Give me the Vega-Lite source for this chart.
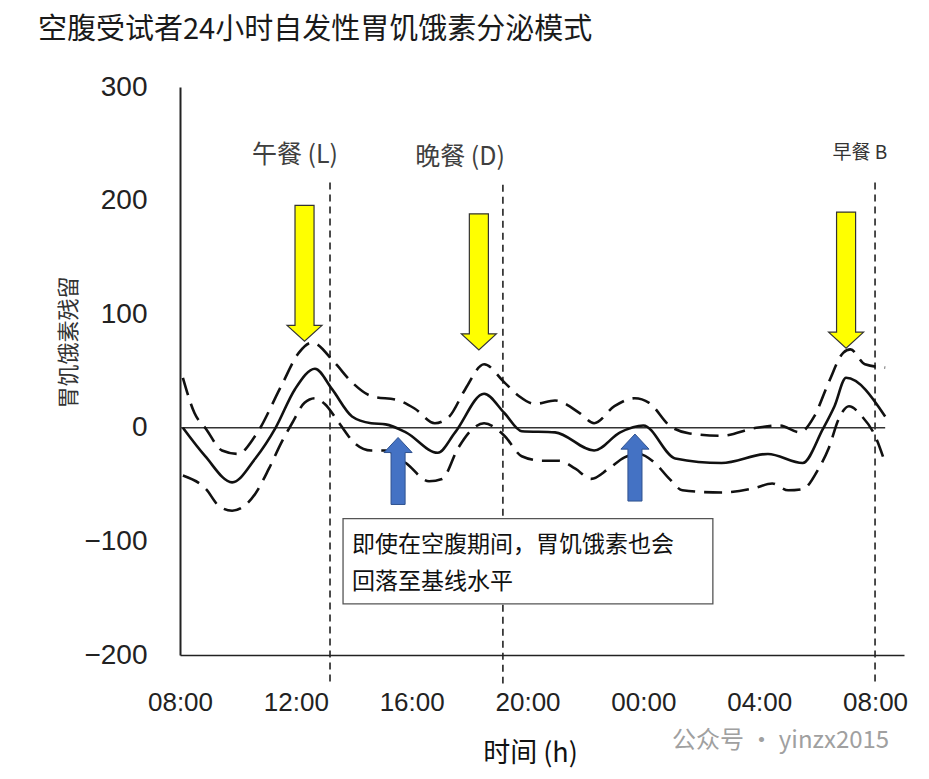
{
  "$schema": "https://vega.github.io/schema/vega-lite/v6.json",
  "width": 724,
  "height": 568,
  "autosize": {"type": "none"},
  "padding": {"left": 180, "top": 87, "right": 25, "bottom": 124},
  "background": "white",
  "config": {"view": {"stroke": null}, "font": "Noto Sans CJK SC"},
  "title": {
    "text": "空腹受试者24小时自发性胃饥饿素分泌模式",
    "anchor": "start",
    "frame": "group",
    "dx": -142,
    "offset": -1,
    "baseline": "bottom",
    "font": "Noto Sans CJK SC",
    "fontSize": 29,
    "fontWeight": "normal",
    "color": "#1a1a1a"
  },
  "datasets": {
    "curves": [
      {"series": "均值", "h": 0.1, "v": 0},
      {"series": "均值", "h": 0.87, "v": -25},
      {"series": "均值", "h": 1.8, "v": -48},
      {"series": "均值", "h": 2.6, "v": -27},
      {"series": "均值", "h": 3.3, "v": 0},
      {"series": "均值", "h": 3.97, "v": 34},
      {"series": "均值", "h": 4.66, "v": 52},
      {"series": "均值", "h": 5.25, "v": 34},
      {"series": "均值", "h": 5.94, "v": 10},
      {"series": "均值", "h": 6.6, "v": 4},
      {"series": "均值", "h": 7.1, "v": 3},
      {"series": "均值", "h": 7.8, "v": -4},
      {"series": "均值", "h": 8.9, "v": -22},
      {"series": "均值", "h": 9.5, "v": -4},
      {"series": "均值", "h": 10.5, "v": 30},
      {"series": "均值", "h": 11.2, "v": 13},
      {"series": "均值", "h": 11.8, "v": -3},
      {"series": "均值", "h": 12.95, "v": -4},
      {"series": "均值", "h": 14.3, "v": -20},
      {"series": "均值", "h": 15.2, "v": -4},
      {"series": "均值", "h": 16.0, "v": 2},
      {"series": "均值", "h": 17.1, "v": -27},
      {"series": "均值", "h": 18.7, "v": -31},
      {"series": "均值", "h": 20.3, "v": -23},
      {"series": "均值", "h": 21.5, "v": -31},
      {"series": "均值", "h": 22.2, "v": -1},
      {"series": "均值", "h": 22.6, "v": 19},
      {"series": "均值", "h": 23.0, "v": 44},
      {"series": "均值", "h": 24.35, "v": 10},
      {"series": "上限", "h": 0.1, "v": 44},
      {"series": "上限", "h": 0.5, "v": 13},
      {"series": "上限", "h": 0.9, "v": -1},
      {"series": "上限", "h": 1.45, "v": -20},
      {"series": "上限", "h": 2.0, "v": -23},
      {"series": "上限", "h": 2.6, "v": -7},
      {"series": "上限", "h": 3.5, "v": 37},
      {"series": "上限", "h": 4.1, "v": 66},
      {"series": "上限", "h": 4.56, "v": 75},
      {"series": "上限", "h": 5.35, "v": 57},
      {"series": "上限", "h": 5.94, "v": 40},
      {"series": "上限", "h": 6.6, "v": 28},
      {"series": "上限", "h": 7.56, "v": 24},
      {"series": "上限", "h": 8.1, "v": 17},
      {"series": "上限", "h": 8.8, "v": 4},
      {"series": "上限", "h": 9.3, "v": 10},
      {"series": "上限", "h": 9.85, "v": 34},
      {"series": "上限", "h": 10.5, "v": 56},
      {"series": "上限", "h": 11.2, "v": 40},
      {"series": "上限", "h": 11.7, "v": 28},
      {"series": "上限", "h": 12.25, "v": 21},
      {"series": "上限", "h": 12.95, "v": 24},
      {"series": "上限", "h": 13.8, "v": 13},
      {"series": "上限", "h": 14.3, "v": 4},
      {"series": "上限", "h": 15.0, "v": 19},
      {"series": "上限", "h": 15.7, "v": 26},
      {"series": "上限", "h": 16.2, "v": 22},
      {"series": "上限", "h": 16.9, "v": 2},
      {"series": "上限", "h": 17.6, "v": -5},
      {"series": "上限", "h": 18.7, "v": -7},
      {"series": "上限", "h": 19.9, "v": 0},
      {"series": "上限", "h": 20.7, "v": 2},
      {"series": "上限", "h": 21.4, "v": -4},
      {"series": "上限", "h": 21.9, "v": 10},
      {"series": "上限", "h": 22.4, "v": 40},
      {"series": "上限", "h": 22.9, "v": 66},
      {"series": "上限", "h": 23.15, "v": 69},
      {"series": "上限", "h": 23.65, "v": 56},
      {"series": "上限", "h": 24.35, "v": 53},
      {"series": "下限", "h": 0.1, "v": -42},
      {"series": "下限", "h": 0.9, "v": -54},
      {"series": "下限", "h": 1.35, "v": -69},
      {"series": "下限", "h": 1.8, "v": -73},
      {"series": "下限", "h": 2.15, "v": -70},
      {"series": "下限", "h": 2.6, "v": -58},
      {"series": "下限", "h": 3.07, "v": -36},
      {"series": "下限", "h": 3.5, "v": -13},
      {"series": "下限", "h": 3.87, "v": 4},
      {"series": "下限", "h": 4.3, "v": 22},
      {"series": "下限", "h": 4.66, "v": 26},
      {"series": "下限", "h": 5.0, "v": 21},
      {"series": "下限", "h": 5.5, "v": 4},
      {"series": "下限", "h": 6.05, "v": -14},
      {"series": "下限", "h": 6.6, "v": -20},
      {"series": "下限", "h": 7.1, "v": -20},
      {"series": "下限", "h": 7.8, "v": -31},
      {"series": "下限", "h": 8.6, "v": -47},
      {"series": "下限", "h": 9.05, "v": -45},
      {"series": "下限", "h": 9.6, "v": -18},
      {"series": "下限", "h": 10.1, "v": -1},
      {"series": "下限", "h": 10.5, "v": 4},
      {"series": "下限", "h": 11.2, "v": -7},
      {"series": "下限", "h": 11.8, "v": -25},
      {"series": "下限", "h": 12.5, "v": -29},
      {"series": "下限", "h": 13.1, "v": -29},
      {"series": "下限", "h": 13.65, "v": -36},
      {"series": "下限", "h": 14.2, "v": -45},
      {"series": "下限", "h": 14.8, "v": -36},
      {"series": "下限", "h": 15.35, "v": -26},
      {"series": "下限", "h": 15.85, "v": -23},
      {"series": "下限", "h": 16.4, "v": -31},
      {"series": "下限", "h": 16.9, "v": -45},
      {"series": "下限", "h": 17.35, "v": -55},
      {"series": "下限", "h": 18.7, "v": -57},
      {"series": "下限", "h": 19.85, "v": -53},
      {"series": "下限", "h": 20.45, "v": -49},
      {"series": "下限", "h": 21.0, "v": -55},
      {"series": "下限", "h": 21.5, "v": -54},
      {"series": "下限", "h": 22.05, "v": -36},
      {"series": "下限", "h": 22.4, "v": -18},
      {"series": "下限", "h": 22.75, "v": 8},
      {"series": "下限", "h": 23.1, "v": 19},
      {"series": "下限", "h": 23.55, "v": 10},
      {"series": "下限", "h": 24.0, "v": -7},
      {"series": "下限", "h": 24.35, "v": -31}
    ],
    "meals": [
      {"meal": "L", "h": 5.18, "v": 216, "v2": -225},
      {"meal": "D", "h": 11.15, "v": 214, "v2": -225},
      {"meal": "B", "h": 24.0, "v": 216, "v2": -225}
    ],
    "zero": [{"h": 0, "h2": 24.35, "v": 0}],
    "box": [{"h": 5.63, "h2": 18.4, "v": -80, "v2": -155}],
    "boxtext": [
      {"text": "即使在空腹期间，胃饥饿素也会", "h": 5.94, "v": -103},
      {"text": "回落至基线水平", "h": 5.94, "v": -135.5}
    ],
    "mealLabels": [
      {"text": "午餐 (L)", "kind": "big", "h": 3.97, "v": 240},
      {"text": "晚餐 (D)", "kind": "big", "h": 9.67, "v": 238.5},
      {"text": "早餐 B", "kind": "small", "h": 23.48, "v": 242}
    ],
    "yellow": [
      {"h": 4.3, "v": 136},
      {"h": 10.32, "v": 128.5},
      {"h": 23.0, "v": 130}
    ],
    "blue": [
      {"h": 7.53, "v": -38},
      {"h": 15.71, "v": -35}
    ],
    "mark": [{"text": "公众号 · yinzx2015", "h": 16.99, "v": -276}]
  },
  "encoding": {
    "x": {
      "field": "h",
      "type": "quantitative",
      "scale": {"domain": [0, 25], "nice": false, "zero": false},
      "axis": {
        "values": [0, 4, 8, 12, 16, 20, 24],
        "labelExpr": "['08:00','12:00','16:00','20:00','00:00','04:00','08:00'][round(datum.value/4)]",
        "ticks": false,
        "grid": false,
        "domainColor": "#222",
        "domainWidth": 1.6,
        "labelFont": "Liberation Sans",
        "labelFontSize": 26,
        "labelColor": "#222",
        "labelPadding": 34,
        "labelFlush": false,
        "labelOverlap": false,
        "title": "时间 (h)",
        "titleFont": "Noto Sans CJK SC",
        "titleFontSize": 27,
        "titleFontWeight": "normal",
        "titleColor": "#111",
        "titleX": 350,
        "titleY": 98,
        "titleBaseline": "middle",
        "titleAlign": "center"
      }
    },
    "y": {
      "field": "v",
      "type": "quantitative",
      "scale": {"domain": [-200, 300], "nice": false, "zero": false},
      "axis": {
        "values": [-200, -100, 0, 100, 200, 300],
        "ticks": false,
        "grid": false,
        "domainColor": "#222",
        "domainWidth": 2,
        "labelFont": "Liberation Sans",
        "labelFontSize": 28,
        "labelColor": "#222",
        "labelPadding": 33,
        "labelFlush": false,
        "labelOverlap": false,
        "title": "胃饥饿素残留",
        "titleFont": "Noto Sans CJK SC",
        "titleFontSize": 22,
        "titleFontWeight": "normal",
        "titleColor": "#333",
        "titleX": -112,
        "titleY": 255,
        "titleAngle": -90,
        "titleBaseline": "middle",
        "titleAlign": "center"
      }
    }
  },
  "layer": [
    {
      "data": {"name": "meals"},
      "mark": {"type": "rule", "color": "#222", "strokeWidth": 1.6, "strokeDash": [7, 5]},
      "encoding": {"y2": {"field": "v2"}}
    },
    {
      "data": {"name": "zero"},
      "mark": {"type": "rule", "color": "#333", "strokeWidth": 1.5},
      "encoding": {"x2": {"field": "h2"}}
    },
    {
      "data": {"name": "box"},
      "mark": {"type": "rect", "fill": "white", "stroke": "#555", "strokeWidth": 1.3},
      "encoding": {"x2": {"field": "h2"}, "y2": {"field": "v2"}}
    },
    {
      "data": {"name": "boxtext"},
      "mark": {"type": "text", "align": "left", "baseline": "middle", "fontSize": 23, "color": "#111", "font": "Noto Sans CJK SC"},
      "encoding": {"text": {"field": "text"}}
    },
    {
      "data": {"name": "curves"},
      "transform": [{"filter": "datum.series == '均值'"}],
      "mark": {"type": "line", "interpolate": "monotone", "color": "#111", "strokeWidth": 2.6},
      "encoding": {}
    },
    {
      "data": {"name": "curves"},
      "transform": [{"filter": "datum.series != '均值'"}],
      "mark": {"type": "line", "interpolate": "monotone", "color": "#111", "strokeWidth": 2.6, "strokeDash": [18, 9]},
      "encoding": {"detail": {"field": "series"}}
    },
    {
      "data": {"name": "yellow"},
      "mark": {"type": "point", "shape": "M-0.14,-1L0.14,-1L0.14,0.765L0.257,0.765L0,1L-0.257,0.765L-0.14,0.765Z", "size": 18496, "filled": true, "fill": "#FFFF00", "stroke": "#333", "strokeWidth": 1.2, "opacity": 1, "fillOpacity": 1}
    },
    {
      "data": {"name": "blue"},
      "mark": {"type": "point", "shape": "M0,-1L0.42,-0.55L0.21,-0.55L0.21,1L-0.21,1L-0.21,-0.55L-0.42,-0.55Z", "size": 4489, "filled": true, "fill": "#4472C4", "stroke": "#2F528F", "strokeWidth": 1, "opacity": 1, "fillOpacity": 1}
    },
    {
      "data": {"name": "mealLabels"},
      "transform": [{"filter": "datum.kind == 'big'"}],
      "mark": {"type": "text", "align": "center", "baseline": "middle", "fontSize": 25, "color": "#404040", "font": "Noto Sans CJK SC"},
      "encoding": {"text": {"field": "text"}}
    },
    {
      "data": {"name": "mealLabels"},
      "transform": [{"filter": "datum.kind == 'small'"}],
      "mark": {"type": "text", "align": "center", "baseline": "middle", "fontSize": 19, "color": "#333", "font": "Noto Sans CJK SC"},
      "encoding": {"text": {"field": "text"}}
    },
    {
      "data": {"name": "mark"},
      "mark": {"type": "text", "align": "left", "baseline": "middle", "fontSize": 24, "color": "#a0a0a0", "font": "Noto Sans CJK SC"},
      "encoding": {"text": {"field": "text"}}
    }
  ]
}
